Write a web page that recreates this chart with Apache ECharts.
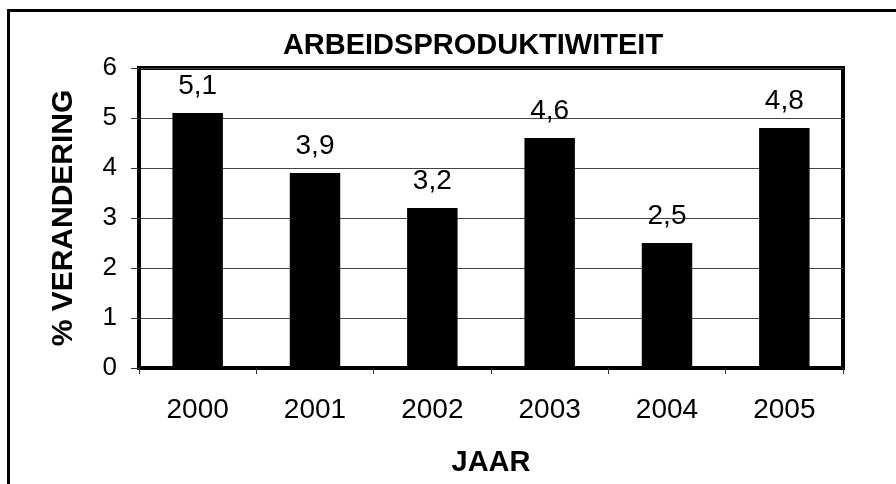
<!DOCTYPE html>
<html>
<head>
<meta charset="utf-8">
<script src="https://cdn.jsdelivr.net/npm/echarts@6/dist/echarts.min.js"></script>
<style>
  html, body { margin: 0; padding: 0; background: #fff; }
  #chart { width: 896px; height: 484px; }
</style>
</head>
<body>
<div id="chart"></div>
<script>
// jaren en procentuele verandering
var jaren = ['2000', '2001', '2002', '2003', '2004', '2005'];
var verandering = [5.1, 3.9, 3.2, 4.6, 2.5, 4.8];

var chart = echarts.init(document.getElementById('chart'));

var font = 'Liberation Sans, Arial, sans-serif';

var option = {
    backgroundColor: '#fff',
    animation: false,
    title: {
        text: 'ARBEIDSPRODUKTIWITEIT',
        left: 468,
        top: 26,
        textAlign: 'center',
        textStyle: { fontFamily: font, fontWeight: 'bold', fontSize: 29, color: '#000' }
    },
    graphic: [
        {
            // buitenrand van de grafiek
            type: 'rect',
            shape: { x: 8.5, y: 10.5, width: 900, height: 500 },
            style: { fill: null, stroke: '#000', lineWidth: 3 },
            silent: true
        }
    ],
    grid: {
        left: 139,
        right: 53,
        top: 68,
        bottom: 116,
        show: true,
        borderColor: '#000',
        borderWidth: 4,
        containLabel: false
    },
    xAxis: {
        type: 'category',
        data: jaren,
        name: 'JAAR',
        nameLocation: 'middle',
        nameGap: 80,
        nameTextStyle: { fontFamily: font, fontWeight: 'bold', fontSize: 29, color: '#000' },
        axisLine: { show: true, lineStyle: { color: '#000', width: 4 } },
        axisTick: { show: true, length: 6, lineStyle: { color: '#333', width: 1 } },
        axisLabel: { fontFamily: font, fontSize: 28, color: '#000', margin: 28 }
    },
    yAxis: {
        type: 'value',
        min: 0,
        max: 6,
        interval: 1,
        name: '% VERANDERING',
        nameLocation: 'middle',
        nameGap: 60,
        nameTextStyle: { fontFamily: font, fontWeight: 'bold', fontSize: 30, color: '#000' },
        axisLine: { show: true, lineStyle: { color: '#000', width: 4 } },
        axisTick: { show: true, length: 8, lineStyle: { color: '#333', width: 1 } },
        axisLabel: { fontFamily: font, fontSize: 26, color: '#000', margin: 22 },
        splitLine: { show: true, lineStyle: { color: '#444', width: 1 } }
    },
    series: [
        {
            type: 'bar',
            data: verandering,
            barWidth: '43%',
            itemStyle: { color: '#000' },
            label: {
                show: true,
                position: 'top',
                distance: 13,
                fontFamily: font,
                fontSize: 28,
                color: '#000',
                formatter: function (p) {
                    return String(p.value).replace('.', ',');
                }
            }
        }
    ]
};

chart.setOption(option);
</script>
</body>
</html>
